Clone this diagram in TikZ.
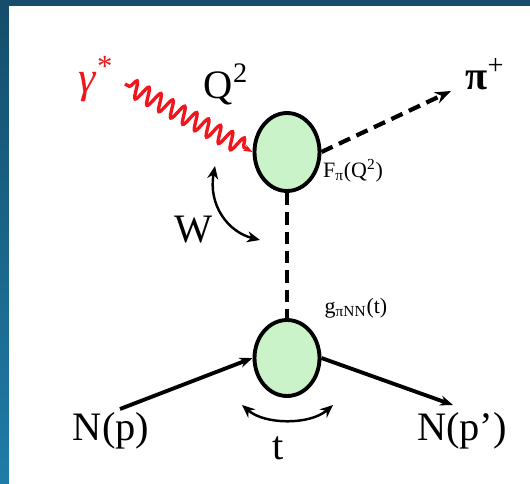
\documentclass[tikz,border=0pt]{standalone}
\usepackage{fontspec}
\setmainfont{Liberation Serif}
\usepackage{tikz}
\usetikzlibrary{arrows.meta,shapes.geometric,decorations.pathmorphing}
\definecolor{slidec}{HTML}{154D6B}
\definecolor{slidel}{HTML}{1F7CA8}
\definecolor{blobg}{HTML}{CBF3C9}
\definecolor{photc}{HTML}{F0161E}
\tikzset{
  blob/.style={ellipse,draw,line width=2.2pt,fill=blobg,inner sep=0pt,minimum width=1.3cm},
  ar/.style={-{Stealth[length=2.6mm,width=2mm]},line width=2.2pt},
  curv/.style={{Stealth[length=2.6mm,width=2.2mm]}-{Stealth[length=2.6mm,width=2.2mm]},line width=1.4pt},
  dsh/.style={dash pattern=on 7pt off 4pt,line width=2.4pt},
  ph/.style={photc,line width=1.9pt,decorate,decoration={snake,amplitude=0.17cm,segment length=0.27cm,pre length=1mm,post length=1.5mm}},
  big/.style={font=\fontsize{23}{26}\selectfont,inner sep=0pt,anchor=base},
  small/.style={font=\fontsize{12.5}{14}\selectfont,inner sep=0pt,anchor=base}
}
\begin{document}
\begin{tikzpicture}[x=0.02cm,y=-0.02cm]
\useasboundingbox (0,0) rectangle (530,483);
\shade[top color=slidec,bottom color=slidel] (0,0) rectangle (9,483);
\fill[slidec] (0,0) rectangle (530,6);
\fill[white] (9,6) rectangle (530,483);
\node[blob,minimum height=1.56cm] (vtx) at (287,152) {};
\node[blob,minimum height=1.52cm] (nuc) at (287,358) {};
\coordinate (gin) at (125,84);
\coordinate (piout) at (451,91);
\coordinate (nin) at (120,409);
\coordinate (nout) at (453,405);
\coordinate (wa) at (215,166);
\coordinate (wb) at (260,240);
\coordinate (ta) at (242,405);
\coordinate (tb) at (333,405);
\draw[ph,-{Stealth[length=1.8mm]}] (gin) -- (vtx.west);
\draw[dsh,-{Stealth[length=3.2mm,width=2.4mm]}] (vtx.east) -- (piout);
\draw[dsh] (vtx.south) -- (nuc.north);
\draw[ar] (nin) -- (nuc.west);
\draw[ar] (nuc.east) -- (nout);
\draw[curv] (wa) .. controls (208,205) and (228,232) .. (wb);
\draw[curv] (ta) .. controls (265,425) and (310,425) .. (tb);
\node[big,photc,font=\fontsize{25}{28}\selectfont] (gam) at (96,92) {\textit{γ}\textsuperscript{*}};
\node[big] (qsq) at (226,98) {Q\textsuperscript{2}};
\node[big] (pip) at (485,90) {\textbf{π}\textsuperscript{+}};
\node[small] (fpi) at (353,177) {F\textsubscript{π}(Q\textsuperscript{2})};
\node[small] (gpnn) at (356,313) {g\textsubscript{πNN}(t)};
\node[big] (wlab) at (194,242) {W};
\node[big] (np) at (111,440) {N(p)};
\node[big] (npp) at (462,440) {N(p’)};
\node[big] (tlab) at (278,459) {t};
\end{tikzpicture}
\end{document}
